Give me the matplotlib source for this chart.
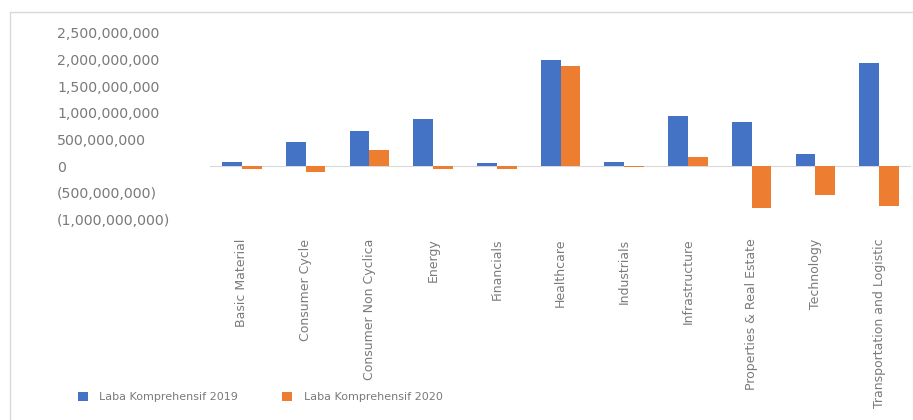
import matplotlib.pyplot as plt
import matplotlib.patches as mpatches
import numpy as np

# Data
sectors = ["Basic Material", "Consumer Cycle", "Consumer Non Cyclica", "Energy",
           "Financials", "Healthcare", "Industrials", "Infrastructure",
           "Properties & Real Estate", "Technology", "Transportation and Logistic"]
laba_2019 = [80e6, 455e6, 660e6, 893e6, 70e6, 2000e6, 75e6, 935e6, 830e6, 230e6, 1935e6]
laba_2020 = [-55e6, -100e6, 305e6, -50e6, -55e6, 1880e6, -12e6, 175e6, -780e6, -545e6, -735e6]
yticks = [2.5e9, 2e9, 1.5e9, 1e9, 5e8, 0, -5e8, -1e9]

blue = "#4472C4"
orange = "#ED7D31"
text_gray = "#7a7a7a"

fig = plt.figure(figsize=(9.13, 4.2), dpi=100)
fig.patch.set_facecolor("white")

# light chart border like the Excel chart area
fig.patches.append(mpatches.Rectangle((10 / 913, -0.05), 1.0, 1 - 12 / 420 + 0.05,
                                      transform=fig.transFigure, fill=False,
                                      edgecolor="#d9d9d9", linewidth=1.0))

ax = fig.add_axes([210 / 913, (420 - 233) / 420, (911 - 210) / 913, 200 / 420])

x = np.arange(len(sectors))
w = 0.31
ax.bar(x - w / 2, laba_2019, width=w, color=blue, label="Laba Komprehensif 2019")
ax.bar(x + w / 2, laba_2020, width=w, color=orange, label="Laba Komprehensif 2020")

ax.axhline(0, color="#d9d9d9", linewidth=0.8, zorder=0)

ax.set_xlim(-0.5, len(sectors) - 0.5)
ax.set_ylim(-1.25e9, 2.5e9)

for s in ax.spines.values():
    s.set_visible(False)

def fmt(v):
    if v < 0:
        return "({:,.0f})".format(-v)
    return "{:,.0f}".format(v)

ax.set_yticks(yticks)
ax.set_yticklabels([fmt(v) for v in yticks], fontsize=10.2, color=text_gray)
for lbl in ax.get_yticklabels():
    lbl.set_horizontalalignment("left")
ax.tick_params(axis="y", length=0, pad=110)

ax.set_xticks(x)
ax.set_xticklabels(sectors, rotation=90, fontsize=9, color=text_gray)
ax.tick_params(axis="x", length=0, pad=4)

ax.legend(loc="center left", bbox_to_anchor=(68 / 913, 1 - 397 / 420),
          bbox_transform=fig.transFigure, ncol=2, frameon=False,
          fontsize=8, labelcolor=text_gray, handlelength=0.9, handleheight=0.9,
          columnspacing=4.0, handletextpad=1.0)

fig.savefig("out.png", dpi=100)
